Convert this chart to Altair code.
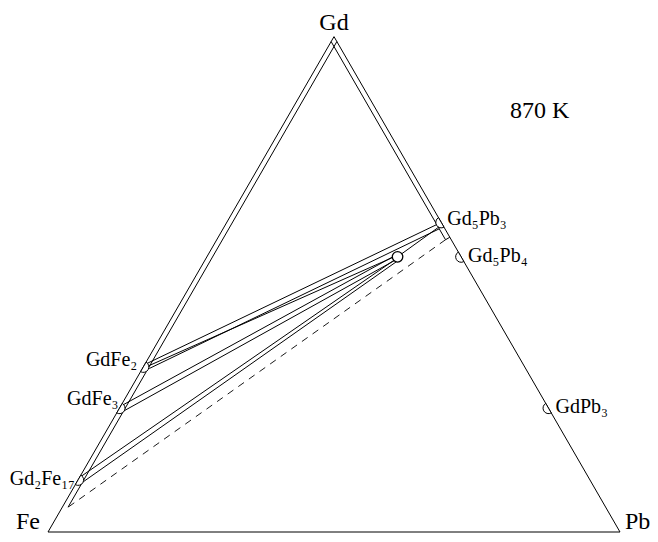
import altair as alt
import pandas as pd
import numpy as np

S3 = np.sqrt(3) / 2

# ---- data (compositions as atomic fractions: Gd, Pb; Fe = 1 - Gd - Pb) ----
# binary compounds on the edges
bin_names = ["GdFe₂", "GdFe₃", "Gd₂Fe₁₇", "Gd₅Pb₃", "Gd₅Pb₄", "GdPb₃"]
bin_gd = [1/3, 1/4, 2/19, 5/8, 5/9, 1/4]
bin_pb = [0.0, 0.0, 0.0, 3/8, 4/9, 3/4]
bin_edge = ["FeGd", "FeGd", "FeGd", "GdPb", "GdPb", "GdPb"]

# ternary compound
ter_gd = [5/9]
ter_pb = [3/9]

# line segments: start (gd, pb) -> end (gd, pb)
seg_gd1 = [0.00, 0.00, 1.00,          # triangle
           0.05, 0.99, 0.59,          # inner solubility lines + tick
           0.338, 0.330, 0.334,       # from GdFe2
           0.254, 0.244,              # from GdFe3
           0.110, 0.100,              # from Gd2Fe17
           5/9]                       # ternary -> Gd5Pb3
seg_pb1 = [0.00, 1.00, 0.00,
           0.01, 0.00, 0.40,
           0.000, 0.012, 0.006,
           0.000, 0.010,
           0.000, 0.010,
           3/9]
seg_gd2 = [1.00, 0.00, 0.00,
           0.99, 0.59, 0.595,
           5/8, 0.612, 0.558,
           0.560, 0.552,
           0.553, 0.548,
           0.615]
seg_pb2 = [0.00, 0.00, 1.00,
           0.01, 0.40, 0.405,
           3/8, 0.378, 0.331,
           0.330, 0.336,
           0.334, 0.338,
           0.375]

dash_gd1, dash_pb1, dash_gd2, dash_pb2 = [0.59], [0.40], [0.05], [0.01]


def to_xy(gd, pb):
    gd = np.asarray(gd, float)
    pb = np.asarray(pb, float)
    return pb + gd / 2, gd * S3


x1, y1 = to_xy(seg_gd1, seg_pb1)
x2, y2 = to_xy(seg_gd2, seg_pb2)
segs = pd.DataFrame({"x": x1, "y": y1, "x2": x2, "y2": y2})

dx1, dy1 = to_xy(dash_gd1, dash_pb1)
dx2, dy2 = to_xy(dash_gd2, dash_pb2)
dash = pd.DataFrame({"x": dx1, "y": dy1, "x2": dx2, "y2": dy2})

bx, by = to_xy(bin_gd, bin_pb)
bins = pd.DataFrame({"name": bin_names, "x": bx, "y": by, "edge": bin_edge})

tx, ty = to_xy(ter_gd, ter_pb)
ter = pd.DataFrame({"x": tx, "y": ty})

W, H = 642, 526
XS = alt.Scale(domain=[-40 / 572, (W - 40) / 572], nice=False, zero=False)
YS = alt.Scale(domain=[-(H - 524) / 572, 524 / 572], nice=False, zero=False)
X = alt.X("x:Q", scale=XS, axis=None)
Y = alt.Y("y:Q", scale=YS, axis=None)

FONT = "Liberation Serif"

lines = alt.Chart(segs).mark_rule(color="black", strokeWidth=1).encode(
    x=X, y=Y, x2="x2:Q", y2="y2:Q")
dashed = alt.Chart(dash).mark_rule(color="black", strokeWidth=0.9,
                                   strokeDash=[7, 6]).encode(
    x=X, y=Y, x2="x2:Q", y2="y2:Q")

arc_fegd = alt.Chart(bins[bins.edge == "FeGd"]).mark_arc(
    radius=5.5, theta=np.pi / 6, theta2=7 * np.pi / 6,
    fill="white", stroke="black", strokeWidth=1).encode(x=X, y=Y)
arc_gdpb = alt.Chart(bins[bins.edge == "GdPb"]).mark_arc(
    radius=5.5, theta=5 * np.pi / 6, theta2=11 * np.pi / 6,
    fill="white", stroke="black", strokeWidth=1).encode(x=X, y=Y)

ter_pt = alt.Chart(ter).mark_point(shape="circle", size=110, filled=True,
                                   fill="white", stroke="black",
                                   strokeWidth=1.3, opacity=1).encode(x=X, y=Y)


def label(name, dx, dy, align, size=20):
    d = bins[bins.name == name]
    return alt.Chart(d).mark_text(font=FONT, fontSize=size, align=align,
                                  baseline="alphabetic", dx=dx, dy=dy,
                                  color="black").encode(x=X, y=Y, text="name:N")


labels = [
    label("Gd₅Pb₃", 6, 3, "left"),
    label("Gd₅Pb₄", 7, 5, "left"),
    label("GdPb₃", 7, 5, "left"),
    label("GdFe₂", -6, -1, "right"),
    label("GdFe₃", -1, -3, "right"),
    label("Gd₂Fe₁₇", -3, 5, "right"),
]

vert = pd.DataFrame({"name": ["Fe", "Pb", "Gd"],
                     "gd": [0.0, 0.0, 1.0], "pb": [0.0, 1.0, 0.0]})
vert["x"], vert["y"] = to_xy(vert.gd, vert.pb)


def vlabel(name, dx, dy, align):
    return alt.Chart(vert[vert.name == name]).mark_text(
        font=FONT, fontSize=24, align=align, baseline="alphabetic",
        dx=dx, dy=dy, color="black").encode(x=X, y=Y, text="name:N")


vlabels = [vlabel("Fe", -8, -3, "right"), vlabel("Pb", 5, -3, "left"),
           vlabel("Gd", 0, -7, "center")]

temp = alt.Chart(pd.DataFrame({"t": ["870 K"]})).mark_text(
    font=FONT, fontSize=24, align="left", baseline="alphabetic",
    color="black").encode(x=alt.value(502), y=alt.value(110), text="t:N")

chart = alt.layer(lines, dashed, arc_fegd, arc_gdpb, ter_pt, *labels,
                  *vlabels, temp).properties(
    width=W, height=H, padding=0,
    autosize=alt.AutoSizeParams(type="none")
).configure_view(stroke=None)

chart.save("out.html", embed_options={"renderer": "svg", "actions": False})
